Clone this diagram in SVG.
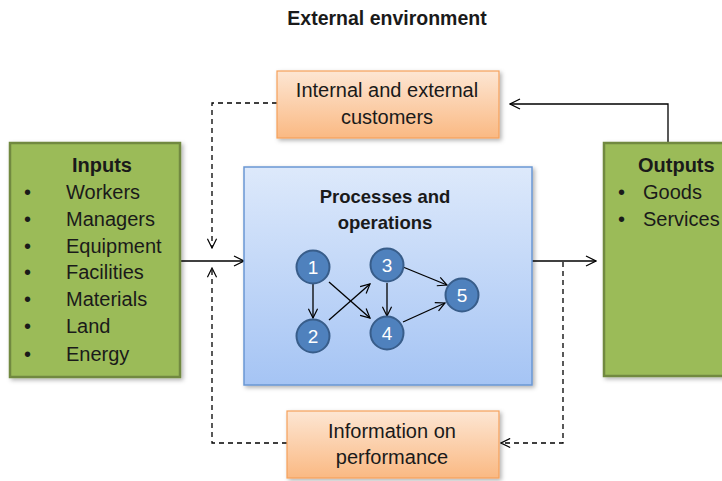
<svg xmlns="http://www.w3.org/2000/svg" width="722" height="481" viewBox="0 0 722 481">
<defs>
  <linearGradient id="gBlue" x1="0" y1="0" x2="0" y2="1">
    <stop offset="0" stop-color="#DDE9FB"/>
    <stop offset="1" stop-color="#A5C4F4"/>
  </linearGradient>
  <linearGradient id="gOrange" x1="0" y1="0" x2="0" y2="1">
    <stop offset="0" stop-color="#FDE6D3"/>
    <stop offset="1" stop-color="#FAB983"/>
  </linearGradient>
  <filter id="sh" x="-10%" y="-10%" width="130%" height="130%">
    <feDropShadow dx="2" dy="2" stdDeviation="2" flood-color="#000" flood-opacity="0.3"/>
  </filter>
  <marker id="open" viewBox="0 0 12 12" refX="11" refY="6" markerWidth="12" markerHeight="12" markerUnits="userSpaceOnUse" orient="auto">
    <path d="M1,1 L11,6 L1,11" fill="none" stroke="#000" stroke-width="1.3"/>
  </marker>
  <marker id="small" viewBox="0 0 12 12" refX="11" refY="6" markerWidth="11" markerHeight="11" markerUnits="userSpaceOnUse" orient="auto">
    <path d="M1,1 L11,6 L1,11" fill="none" stroke="#000" stroke-width="1.3"/>
  </marker>
</defs>
<style>
  text { font-family: "Liberation Sans", Arial, sans-serif; fill: #1a1a1a; }
  .t { font-size: 20px; }
  .b { font-weight: bold; }
  .green { fill: #9BBB59; stroke: #71893F; stroke-width: 2.5; }
  .orange { fill: url(#gOrange); stroke: #F6A15A; stroke-width: 1.2; }
  .blue { fill: url(#gBlue); stroke: #6A97D3; stroke-width: 1.5; }
  .circ { fill: #4F81BD; stroke: #385D8A; stroke-width: 2; }
  .num { font-size: 19px; fill: #fff; text-anchor: middle; }
  .solid { fill: none; stroke: #000; stroke-width: 1.3; }
  .dash { fill: none; stroke: #000; stroke-width: 1.3; stroke-dasharray: 5 4; }
</style>

<text id="title" x="387" y="25" text-anchor="middle" class="b" font-size="19.5">External environment</text>

<g id="connectors">
  <line class="solid" x1="180" y1="261" x2="244" y2="261" marker-end="url(#open)"/>
  <line class="solid" x1="532" y1="261" x2="596" y2="261" marker-end="url(#open)"/>
  <polyline class="solid" points="668,143 668,104 510,104" marker-end="url(#open)"/>
  <polyline class="dash" points="277,103 212,103 212,248" marker-end="url(#small)"/>
  <polyline class="dash" points="287,443 212,443 212,268" marker-end="url(#small)"/>
  <polyline class="dash" points="563,262 563,443 501,443" marker-end="url(#small)"/>
</g>

<g id="inputs">
  <rect class="green" x="10" y="143" width="170" height="234" filter="url(#sh)"/>
  <text x="102" y="172" text-anchor="middle" class="t b">Inputs</text>
  <g class="t">
    <text x="24" y="199">•</text><text x="66" y="199">Workers</text>
    <text x="24" y="226">•</text><text x="66" y="226">Managers</text>
    <text x="24" y="253">•</text><text x="66" y="253">Equipment</text>
    <text x="24" y="279">•</text><text x="66" y="279">Facilities</text>
    <text x="24" y="306">•</text><text x="66" y="306">Materials</text>
    <text x="24" y="333">•</text><text x="66" y="333">Land</text>
    <text x="24" y="361">•</text><text x="66" y="361">Energy</text>
  </g>
</g>

<g id="outputs">
  <rect class="green" x="604" y="143" width="140" height="233" filter="url(#sh)"/>
  <text x="638" y="172" class="t b">Outputs</text>
  <text x="618" y="199" class="t">•</text><text x="643" y="199" class="t">Goods</text>
  <text x="618" y="226" class="t">•</text><text x="643" y="226" class="t">Services</text>
</g>

<g id="customers">
  <rect class="orange" x="277" y="71" width="222" height="67" filter="url(#sh)"/>
  <text x="387" y="97" text-anchor="middle" class="t">Internal and external</text>
  <text x="387" y="124" text-anchor="middle" class="t">customers</text>
</g>

<g id="information">
  <rect class="orange" x="287" y="411" width="212" height="67" filter="url(#sh)"/>
  <text x="392" y="438" text-anchor="middle" class="t">Information on</text>
  <text x="392" y="464" text-anchor="middle" class="t">performance</text>
</g>

<g id="processes">
  <rect class="blue" x="244" y="167" width="288" height="218" filter="url(#sh)"/>
  <text x="385" y="203" text-anchor="middle" class="b" font-size="18.5">Processes and</text>
  <text x="385" y="229" text-anchor="middle" class="b" font-size="18.5">operations</text>
  <g id="mini-edges">
    <line class="solid" x1="313" y1="284" x2="313" y2="318" marker-end="url(#small)"/>
    <line class="solid" x1="329" y1="282" x2="370" y2="318" marker-end="url(#small)"/>
    <line class="solid" x1="329" y1="320" x2="370" y2="284" marker-end="url(#small)"/>
    <line class="solid" x1="387" y1="283" x2="387" y2="316" marker-end="url(#small)"/>
    <line class="solid" x1="403" y1="267" x2="447" y2="285" marker-end="url(#small)"/>
    <line class="solid" x1="403" y1="322" x2="445" y2="303" marker-end="url(#small)"/>
  </g>
  <g id="n1"><circle class="circ" cx="313" cy="267" r="16.5"/><text class="num" x="313" y="274">1</text></g>
  <g id="n2"><circle class="circ" cx="313" cy="336" r="16.5"/><text class="num" x="313" y="343">2</text></g>
  <g id="n3"><circle class="circ" cx="387" cy="265" r="16.5"/><text class="num" x="387" y="272">3</text></g>
  <g id="n4"><circle class="circ" cx="387" cy="333" r="16.5"/><text class="num" x="387" y="340">4</text></g>
  <g id="n5"><circle class="circ" cx="462" cy="295" r="16.5"/><text class="num" x="462" y="302">5</text></g>
</g>
</svg>
